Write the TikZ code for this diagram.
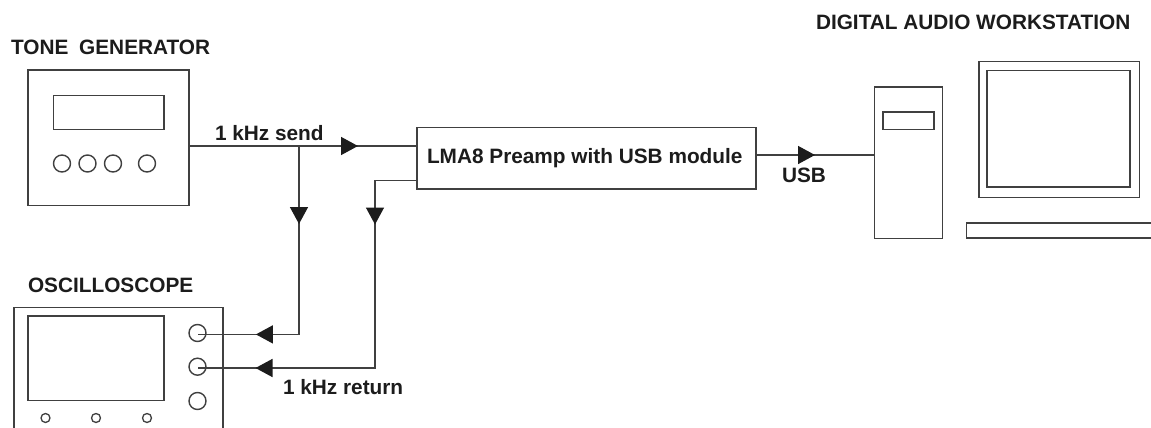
\documentclass[tikz,border=0pt]{standalone}
\usepackage{fontspec}
\setmainfont{Liberation Sans}
\usetikzlibrary{arrows.meta,decorations.markings}
\definecolor{linegrey}{HTML}{404040}
\definecolor{inkdark}{HTML}{1C1C1C}
\tikzset{
  x=1pt,y=-1pt,
  devbox/.style={draw=linegrey,line width=1.5pt,rectangle,inner sep=0pt,outer sep=0pt},
  knob/.style={draw=linegrey,line width=1.4pt,circle,inner sep=0pt,outer sep=0pt,minimum size=17pt},
  smallknob/.style={draw=linegrey,line width=1.3pt,circle,inner sep=0pt,outer sep=0pt,minimum size=9pt},
  wire/.style={draw=linegrey,line width=1.5pt},
  flowmark/.style={postaction={decorate},decoration={markings,
     mark=at position #1 with {\arrow[inkdark]{Triangle[length=17pt,width=18pt]}}}},
  flowtwo/.style n args={2}{postaction={decorate},decoration={markings,
     mark=at position #1 with {\arrow[inkdark]{Triangle[length=17pt,width=18pt]}},
     mark=at position #2 with {\arrow[inkdark]{Triangle[length=17pt,width=18pt]}}}},
  lbl/.style={text=inkdark,font=\bfseries\fontsize{20.8}{20.8}\selectfont,anchor=base west,inner sep=0pt,outer sep=0pt},
}
\newcommand{\devrect}[5]{\node[devbox,minimum width={(#4-#2)*1pt},minimum height={(#5-#3)*1pt}] (#1) at ({(#2+#4)/2},{(#3+#5)/2}) {};}
\begin{document}
\begin{tikzpicture}
\clip (0,0) rectangle (1151,428);
\fill[white] (0,0) rectangle (1151,428);
% tone generator
\devrect{tg}{28}{70}{189}{205.5}
\devrect{tgd}{53.5}{95.5}{164}{129.5}
\foreach \n/\x in {a/62,b/87.5,c/113,d/147}{\node[knob] (tg\n) at (\x,163.5) {};}
% oscilloscope
\devrect{os}{14}{307.5}{223}{450}
\devrect{oss}{28}{316}{164}{400.5}
\node[knob] (in1) at (197.5,333) {};
\node[knob] (in2) at (197.5,366.7) {};
\node[knob] (in3) at (197.5,401) {};
\foreach \n/\x in {a/45.5,b/96,c/147}{\node[smallknob] (os\n) at (\x,418) {};}
% preamp
\devrect{lma}{417}{127.5}{756}{189}
\node[lbl] (lmat) at (427,163) {LMA8 Preamp with USB module};
% workstation
\devrect{tower}{874.5}{87}{942.5}{238.5}
\devrect{slot}{883}{112}{934}{129.5}
\devrect{mon}{979}{61.5}{1139.5}{197.5}
\devrect{scr}{987}{70.5}{1130}{187}
\devrect{kbd}{966.5}{223}{1170}{238}
% connector points
\coordinate (sendin) at (lma.west |- 0,146);
\coordinate (sendout) at (tg.east |- 0,146);
\coordinate (tee) at (299,146);
\coordinate (in1p) at (198,334.4);
\coordinate (in2p) at (198,368);
\coordinate (ret) at (lma.west |- 0,180.5);
\coordinate (usbout) at (lma.east |- 0,155);
\coordinate (usbin) at (tower.west |- 0,155);
% connectors
\draw[wire,flowmark=169pt] (sendout) -- (sendin);
\draw[wire,flowtwo={78pt}{231.5pt}] (tee) -- (tee |- in1p) -- (in1p);
\draw[wire,flowtwo={86pt}{349pt}] (ret) -- (375,180.5) -- (375,368) -- (in2p);
\draw[wire,flowmark=59pt] (usbout) -- (usbin);
% labels
\node[lbl] (t1) at (11,55) {TONE\hspace{5pt} GENERATOR};
\node[lbl] (t2) at (28,292.7) {OSCILLOSCOPE};
\node[lbl] (t3) at (816,29.3) {DIGITAL AUDIO WORKSTATION};
\node[lbl] (t4) at (215,140) {1 kHz send};
\node[lbl] (t5) at (283,394.5) {1 kHz return};
\node[lbl] (t6) at (782,182) {USB};
\end{tikzpicture}
\end{document}
